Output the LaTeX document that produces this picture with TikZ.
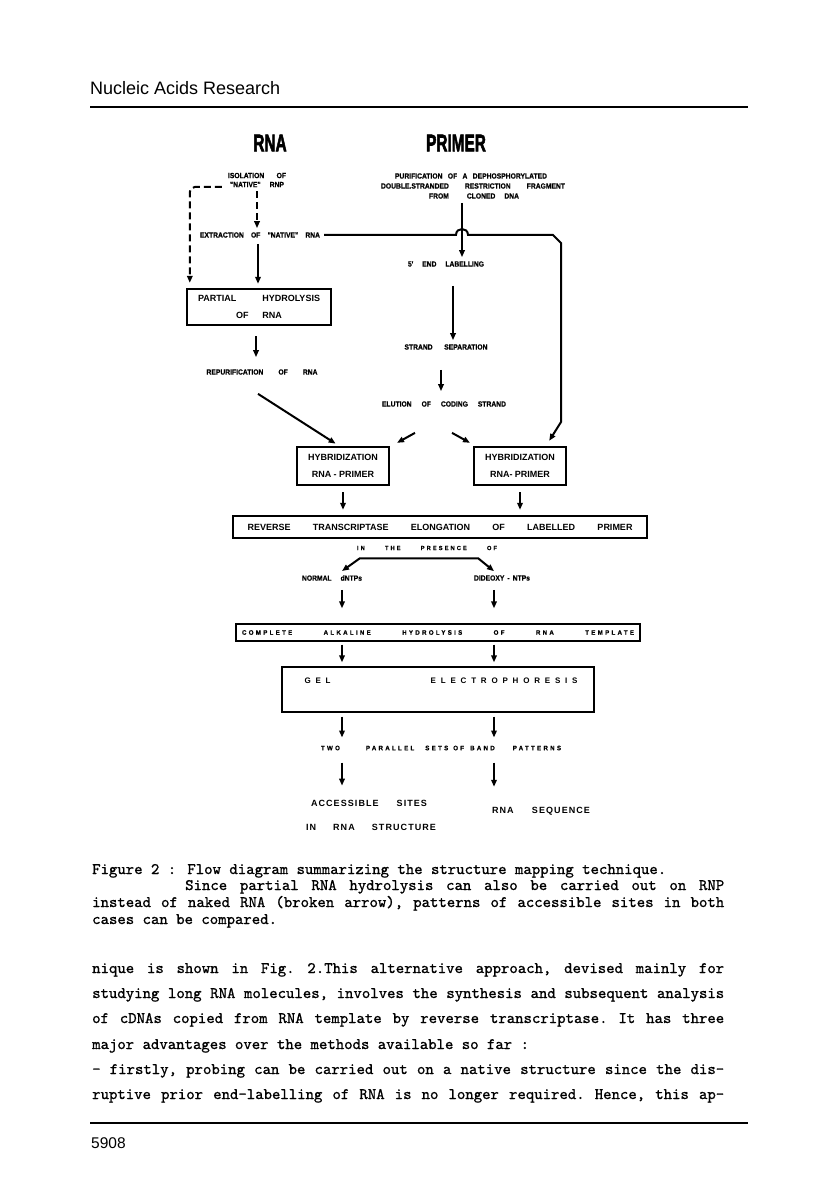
\documentclass[tikz,border=0pt]{standalone}
\usepackage{fontspec}
\usetikzlibrary{arrows.meta}
\newfontfamily\labfont{Liberation Sans}[FakeStretch=0.9, FakeBold=0.4]
\newfontfamily\boxfont{Liberation Sans}
\newfontfamily\spacedfont{Liberation Sans}[LetterSpace=35, FakeStretch=0.95, FakeBold=0.3]
\newfontfamily\widefont{Liberation Sans}[LetterSpace=60]
\newfontfamily\slightfont{Liberation Sans}[LetterSpace=12]
\newfontfamily\heavyfont{Liberation Sans}[FakeBold=3]
\newfontfamily\typefont{lmmono10-regular.otf}[FakeBold=1]
\newcommand{\spread}[2]{\makebox[#1][s]{\frenchspacing\spaceskip=\fontdimen2\font plus 1fil\relax #2}}
\begin{document}
\begin{tikzpicture}[x=1pt, y=-1pt,
    lab/.style={inner sep=0pt, font=\labfont\fontsize{7.5}{9}\selectfont\bfseries},
    spacedlab/.style={inner sep=0pt, font=\spacedfont\fontsize{6.5}{8}\selectfont\bfseries},
    boxtext/.style={align=center, font=\boxfont\fontsize{9}{16.5}\selectfont\bfseries},
    heavybox/.style={draw, line width=2.4pt, inner sep=0pt, boxtext},
    lightbox/.style={draw, line width=1.3pt, inner sep=0pt},
    headword/.style={inner sep=0pt, font=\heavyfont\fontsize{24}{24}\selectfont\bfseries},
    result/.style={inner sep=0pt, font=\slightfont\fontsize{9}{11}\selectfont\bfseries},
    typed/.style={inner sep=0pt, anchor=base west, font=\typefont\fontsize{16}{18}\selectfont},
    arr/.style={line width=2pt, -{Triangle[length=7pt,width=5.5pt]}},
    forkarr/.style={line width=2pt, {Triangle[length=7pt,width=5.5pt]}-{Triangle[length=7pt,width=5.5pt]}},
    brokenarr/.style={arr, dash pattern=on 7pt off 4pt},
]
\fill[white] (0,0) rectangle (816,1198);

\node[anchor=base west, inner sep=0pt, font=\boxfont\fontsize{18}{20}\selectfont] (journal) at (90,94.5) {Nucleic Acids Research};
\draw[line width=1.8pt] (90,107) -- (748,107);

\node[headword] (rnahead) at (270,143) {\scalebox{0.64}[1]{RNA}};
\node[headword] (primerhead) at (456,143) {\scalebox{0.64}[1]{PRIMER}};

\node[lab, align=center] (isol) at (257,180) {\spread{58pt}{ISOLATION OF}\\\spread{54pt}{"NATIVE" RNP}};
\node[lab] (extr) at (260,235) {\spread{120pt}{EXTRACTION OF "NATIVE" RNA}};
\node[heavybox, minimum width=144pt, minimum height=36pt] (part) at (259,307) {\spread{122pt}{PARTIAL HYDROLYSIS}\\\spread{46pt}{OF RNA}};
\node[lab] (repur) at (262,372) {\spread{111pt}{REPURIFICATION OF RNA}};

\node[lab] (pur1) at (471,176) {\spread{152pt}{PURIFICATION OF A DEPHOSPHORYLATED}};
\node[lab] (pur2) at (473,186) {\spread{184pt}{DOUBLE.STRANDED RESTRICTION FRAGMENT}};
\node[lab] (pur3) at (474,196) {FROM\hspace{18pt}CLONED\hspace{9pt}DNA};
\coordinate (drop) at ([xshift=-12pt]pur3.south);
\node[lab] (endl) at (446,264) {\spread{76pt}{5' END LABELLING}};
\node[lab] (sep) at (446,347) {\spread{83pt}{STRAND SEPARATION}};
\node[lab] (elu) at (444,404) {\spread{124pt}{ELUTION OF CODING STRAND}};

\node[heavybox, minimum width=92pt, minimum height=38pt] (hybL) at (343,466) {HYBRIDIZATION\\RNA - PRIMER};
\node[heavybox, minimum width=92pt, minimum height=38pt] (hybR) at (520,466) {HYBRIDIZATION\\RNA- PRIMER};
\node[heavybox, minimum width=414pt, minimum height=22pt] (rev) at (440,527) {\spread{385pt}{REVERSE TRANSCRIPTASE ELONGATION OF LABELLED PRIMER}};

\node[inner sep=0pt, font=\spacedfont\fontsize{6}{8}\selectfont\bfseries] (pres) at (427,548) {\spread{140pt}{IN THE PRESENCE OF}};
\node[lab] (norm) at (332,578) {\spread{60pt}{NORMAL dNTPs}};
\node[lab] (dide) at (502,578) {\spread{56pt}{DIDEOXY - NTPs}};
\coordinate (lcol) at (342,0);
\coordinate (rcol) at (494,0);
\coordinate (forkL) at ([xshift=3pt,yshift=-8pt]pres.south west);
\coordinate (forkR) at ([xshift=-19pt,yshift=-8pt]pres.south east);

\node[lightbox, spacedlab, minimum width=404pt, minimum height=17pt] (compl) at (438,632.5) {\spread{392pt}{COMPLETE ALKALINE HYDROLYSIS OF RNA TEMPLATE}};
\node[lightbox, minimum width=312pt, minimum height=45pt] (gel) at (438,689.5) {};
\node[inner sep=0pt, font=\widefont\fontsize{8}{10}\selectfont\bfseries] (geltext) at ([xshift=3pt,yshift=9pt]gel.center) {\spread{273pt}{GEL ELECTROPHORESIS}};
\node[spacedlab] (pairs) at (441,748) {TWO\hspace{26pt}PARALLEL\hspace{11pt}SETS\hspace{5pt}OF\hspace{6pt}BAND\hspace{18pt}PATTERNS};
\node[result] (acc1) at (369,803) {\spread{116pt}{ACCESSIBLE SITES}};
\node[result] (acc2) at (371,827) {\spread{130pt}{IN RNA STRUCTURE}};
\node[result] (seq) at (541,811) {\spread{98pt}{RNA SEQUENCE}};

\draw[brokenarr, rounded corners=5pt] ([xshift=-6pt,yshift=-7pt]isol.west) -| ([xshift=4pt,yshift=5pt]part.north west);
\draw[brokenarr, shorten <=4pt, shorten >=4pt] (isol.south) -- (isol.south |- extr.north);
\draw[arr, shorten <=6pt, shorten >=4pt] ([xshift=-2pt]extr.south) -- ([xshift=-2pt]extr.south |- part.north);
\draw[arr, shorten <=10pt, shorten >=12pt] ([xshift=-3pt]part.south) -- ([xshift=-3pt]part.south |- repur.north);
\draw[arr, shorten >=4pt] ([xshift=-4pt,yshift=-19pt]repur.south) -- ([xshift=-4pt]hybL.north);

\draw[arr, shorten <=4pt, shorten >=4pt] (drop) -- (drop |- endl.north);
\draw[arr] ([xshift=4pt]extr.east) -- ([xshift=-6pt]drop |- extr.east) .. controls +(0,-8) and +(0,-8) .. ++(12,0) -- ++(85,0) -- ++(8,8) -- ++(0,179) -- ([xshift=-18pt,yshift=5pt]hybR.north east);
\draw[arr, shorten <=19pt, shorten >=4pt] ([xshift=7pt]endl.south) -- ([xshift=7pt]endl.south |- sep.north);
\draw[arr, shorten <=20pt, shorten >=10pt] ([xshift=-5pt]sep.south) -- ([xshift=-5pt]sep.south |- elu.north);
\draw[arr] ([xshift=-29pt,yshift=-26pt]elu.south) -- ++(-18,10);
\draw[arr] ([xshift=8pt,yshift=-26pt]elu.south) -- ++(18,10);

\draw[arr, shorten <=6pt, shorten >=5pt] (hybL.south) -- (hybL.south |- rev.north);
\draw[arr, shorten <=6pt, shorten >=5pt] (hybR.south) -- (hybR.south |- rev.north);
\draw[forkarr] ([yshift=4pt]lcol |- norm.north) -- (forkL) -- (forkR) -- ([yshift=4pt]rcol |- dide.north);
\draw[arr, shorten <=9pt, shorten >=15pt] (lcol |- norm.south) -- (lcol |- compl.north);
\draw[arr, shorten <=9pt, shorten >=15pt] (rcol |- dide.south) -- (rcol |- compl.north);
\draw[arr, shorten <=3pt, shorten >=4pt] (lcol |- compl.south) -- (lcol |- gel.north);
\draw[arr, shorten <=3pt, shorten >=4pt] (rcol |- compl.south) -- (rcol |- gel.north);
\draw[arr, shorten <=4pt, shorten >=8pt] (lcol |- gel.south) -- (lcol |- pairs.north);
\draw[arr, shorten <=4pt, shorten >=8pt] (rcol |- gel.south) -- (rcol |- pairs.north);
\draw[arr, shorten <=12pt, shorten >=14pt] (lcol |- pairs.south) -- (lcol |- acc1.north);
\draw[arr, shorten <=12pt, shorten >=20pt] (rcol |- pairs.south) -- (rcol |- seq.north);

\node[typed] (cap1) at (92,874) {Figure 2 : Flow diagram summarizing the structure mapping technique.};
\node[typed] (cap2) at (185,890) {\spread{539pt}{Since partial RNA hydrolysis can also be carried out on RNP}};
\node[typed] (cap3) at (92,907) {\spread{632pt}{instead of naked RNA (broken arrow), patterns of accessible sites in both}};
\node[typed] (cap4) at (92,924) {cases can be compared.};

\node[typed] (body1) at (92,973) {\spread{632pt}{nique is shown in Fig. 2.This alternative approach, devised mainly for}};
\node[typed] (body2) at (92,998) {\spread{632pt}{studying long RNA molecules, involves the synthesis and subsequent analysis}};
\node[typed] (body3) at (92,1023) {\spread{632pt}{of cDNAs copied from RNA template by reverse transcriptase. It has three}};
\node[typed] (body4) at (92,1049) {major advantages over the methods available so far :};
\node[typed] (body5) at (92,1074) {\spread{632pt}{- firstly, probing can be carried out on a native structure since the dis-}};
\node[typed] (body6) at (92,1099) {\spread{632pt}{ruptive prior end-labelling of RNA is no longer required. Hence, this ap-}};

\draw[line width=1.5pt] (90,1123) -- (748,1123);
\node[anchor=base west, inner sep=0pt, font=\boxfont\fontsize{15.5}{18}\selectfont] (pageno) at (91,1148) {5908};
\end{tikzpicture}
\end{document}
